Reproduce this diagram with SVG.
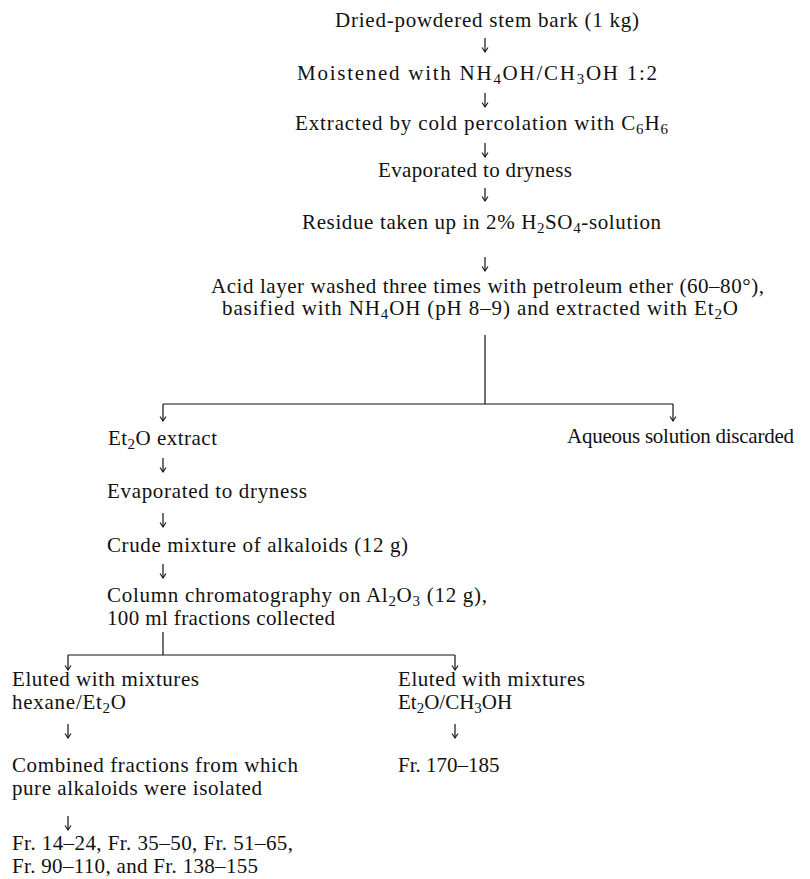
<svg xmlns="http://www.w3.org/2000/svg" width="810" height="879" viewBox="0 0 810 879">
<style>
text{font-family:"Liberation Serif","Times New Roman",serif;font-size:21px;fill:#111}
.s{font-size:15px}
.c{stroke:#111;stroke-width:1.2;fill:none}
.a{stroke:#111;stroke-width:1.2;fill:none;marker-end:url(#ah)}
</style>
<defs>
<marker id="ah" viewBox="-6 -4 7 8" refX="0" refY="0" markerWidth="7" markerHeight="8" markerUnits="userSpaceOnUse" orient="auto">
<path d="M-4.5,-3 L0,0 L-4.5,3" stroke="#111" stroke-width="1.1" fill="none"/>
</marker>
</defs>
<rect width="810" height="879" fill="#fff"/>
<g id="n1"><text x="335" y="27" textLength="304" lengthAdjust="spacing">Dried-powdered stem bark (1 kg)</text></g>
<g id="n2"><text x="297" y="80" textLength="360" lengthAdjust="spacing">Moistened with NH<tspan class="s" dy="4">4</tspan><tspan dy="-4">OH/CH</tspan><tspan class="s" dy="4">3</tspan><tspan dy="-4">OH 1:2</tspan></text></g>
<g id="n3"><text x="295" y="130" textLength="373" lengthAdjust="spacing">Extracted by cold percolation with C<tspan class="s" dy="4">6</tspan><tspan dy="-4">H</tspan><tspan class="s" dy="4">6</tspan></text></g>
<g id="n4"><text x="378" y="177" textLength="194" lengthAdjust="spacing">Evaporated to dryness</text></g>
<g id="n5"><text x="302" y="229" textLength="359" lengthAdjust="spacing">Residue taken up in 2% H<tspan class="s" dy="4">2</tspan><tspan dy="-4">SO</tspan><tspan class="s" dy="4">4</tspan><tspan dy="-4">-solution</tspan></text></g>
<g id="n6">
<text x="211" y="293" textLength="553" lengthAdjust="spacing">Acid layer washed three times with petroleum ether (60–80°),</text>
<text x="222" y="315" textLength="516" lengthAdjust="spacing">basified with NH<tspan class="s" dy="4">4</tspan><tspan dy="-4">OH (pH 8–9) and extracted with Et</tspan><tspan class="s" dy="4">2</tspan><tspan dy="-4">O</tspan></text>
</g>
<g id="n7"><text x="108" y="445" textLength="109" lengthAdjust="spacing">Et<tspan class="s" dy="4">2</tspan><tspan dy="-4">O extract</tspan></text></g>
<g id="n8"><text x="567" y="443" textLength="227" lengthAdjust="spacing">Aqueous solution discarded</text></g>
<g id="n9"><text x="107" y="498" textLength="200" lengthAdjust="spacing">Evaporated to dryness</text></g>
<g id="n10"><text x="107" y="552" textLength="301" lengthAdjust="spacing">Crude mixture of alkaloids (12 g)</text></g>
<g id="n11">
<text x="107" y="602" textLength="380" lengthAdjust="spacing">Column chromatography on Al<tspan class="s" dy="4">2</tspan><tspan dy="-4">O</tspan><tspan class="s" dy="4">3</tspan><tspan dy="-4"> (12 g),</tspan></text>
<text x="107" y="625" textLength="228" lengthAdjust="spacing">100 ml fractions collected</text>
</g>
<g id="n12">
<text x="12" y="686" textLength="187" lengthAdjust="spacing">Eluted with mixtures</text>
<text x="12" y="709" textLength="114" lengthAdjust="spacing">hexane/Et<tspan class="s" dy="4">2</tspan><tspan dy="-4">O</tspan></text>
</g>
<g id="n13">
<text x="398" y="686" textLength="187" lengthAdjust="spacing">Eluted with mixtures</text>
<text x="398" y="709">Et<tspan class="s" dy="4">2</tspan><tspan dy="-4">O/CH</tspan><tspan class="s" dy="4">3</tspan><tspan dy="-4">OH</tspan></text>
</g>
<g id="n14">
<text x="12" y="772" textLength="286" lengthAdjust="spacing">Combined fractions from which</text>
<text x="12" y="795" textLength="250" lengthAdjust="spacing">pure alkaloids were isolated</text>
</g>
<g id="n15"><text x="398" y="772">Fr. 170–185</text></g>
<g id="n16">
<text x="12" y="850" textLength="281" lengthAdjust="spacing">Fr. 14–24, Fr. 35–50, Fr. 51–65,</text>
<text x="12" y="873" textLength="246" lengthAdjust="spacing">Fr. 90–110, and Fr. 138–155</text>
</g>
<g id="connectors">
<path class="a" d="M485,38 V52"/>
<path class="a" d="M485,93 V107"/>
<path class="a" d="M485,143 V157"/>
<path class="a" d="M485,188 V201"/>
<path class="a" d="M485,257 V271"/>
<path class="c" d="M485,335 V404 M163,404 H673"/>
<path class="a" d="M163,404 V421"/>
<path class="a" d="M673,404 V421"/>
<path class="a" d="M163,458 V472"/>
<path class="a" d="M163,513 V527"/>
<path class="a" d="M163,564 V578"/>
<path class="c" d="M163,632 V655 M68,655 H455"/>
<path class="a" d="M68,655 V670"/>
<path class="a" d="M455,655 V670"/>
<path class="a" d="M68,724 V738"/>
<path class="a" d="M455,724 V738"/>
<path class="a" d="M68,816 V830"/>
</g>
</svg>
